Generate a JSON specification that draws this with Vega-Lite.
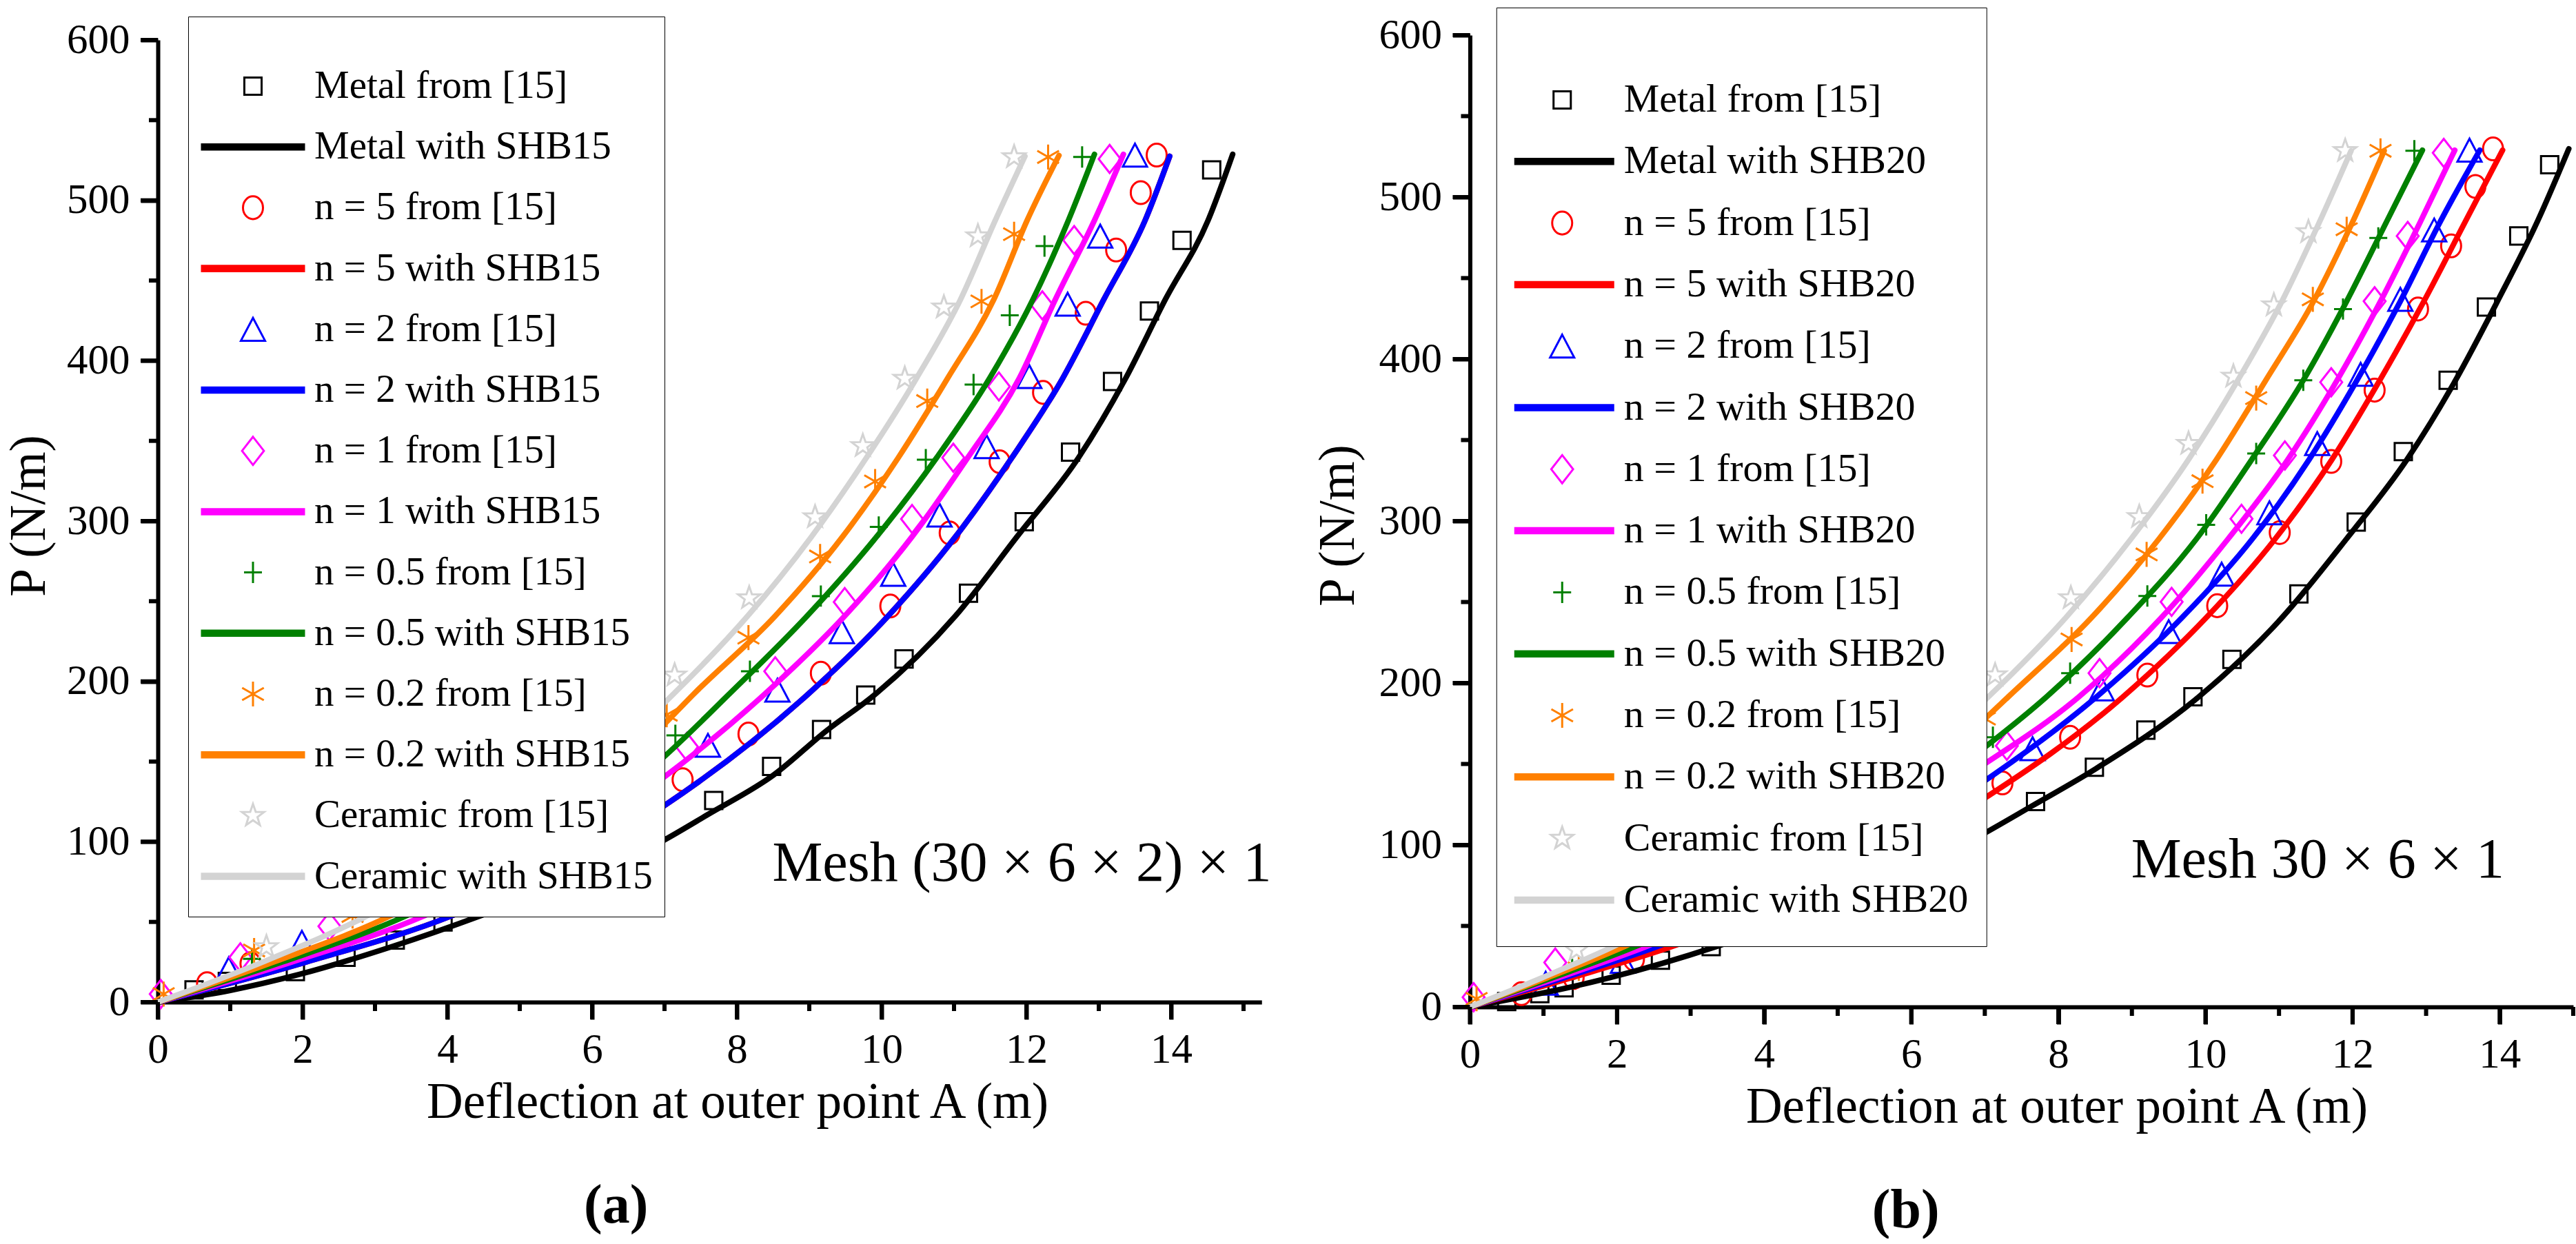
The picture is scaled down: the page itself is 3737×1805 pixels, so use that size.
{
  "$schema": "https://vega.github.io/schema/vega-lite/v6.json",
  "background": "white",
  "padding": {"left": 6, "top": 10, "right": 0, "bottom": 0},
  "spacing": 301.45,
  "bounds": "flush",
  "center": true,
  "config": {
    "view": {"stroke": null},
    "font": "Liberation Serif",
    "axis": {
      "domainWidth": 6, "domainColor": "#000000", "ticks": true, "tickWidth": 6, "tickColor": "#000000", "tickOpacity": 1,
      "labelFont": "Liberation Serif", "labelFontSize": 61, "labelColor": "black",
      "titleFont": "Liberation Serif", "titleFontSize": 73, "titleFontWeight": "normal", "titleColor": "black",
      "grid": false, "labelOverlap": false, "labelFlush": false
    }
  },
  "resolve": {
    "scale": {"color": "independent", "shape": "independent", "x": "independent", "y": "independent"},
    "legend": {"color": "independent", "shape": "independent"}
  },
  "datasets": {
    "xmaj": [{"v": 0}, {"v": 2}, {"v": 4}, {"v": 6}, {"v": 8}, {"v": 10}, {"v": 12}, {"v": 14}],
    "xmin": [{"v": 1}, {"v": 3}, {"v": 5}, {"v": 7}, {"v": 9}, {"v": 11}, {"v": 13}, {"v": 15}],
    "ymaj": [{"v": 0}, {"v": 100}, {"v": 200}, {"v": 300}, {"v": 400}, {"v": 500}, {"v": 600}],
    "ymin": [{"v": 50}, {"v": 150}, {"v": 250}, {"v": 350}, {"v": 450}, {"v": 550}],
    "a_pts": [
      {"series": "Metal from [15]", "x": 0.50, "y": 7.6},
      {"series": "Metal from [15]", "x": 0.96, "y": 12.9},
      {"series": "Metal from [15]", "x": 1.9, "y": 19},
      {"series": "Metal from [15]", "x": 2.6, "y": 28},
      {"series": "Metal from [15]", "x": 3.28, "y": 38.7},
      {"series": "Metal from [15]", "x": 3.94, "y": 50},
      {"series": "Metal from [15]", "x": 7.68, "y": 125.7},
      {"series": "Metal from [15]", "x": 8.48, "y": 147},
      {"series": "Metal from [15]", "x": 9.17, "y": 170},
      {"series": "Metal from [15]", "x": 9.78, "y": 191.5},
      {"series": "Metal from [15]", "x": 10.31, "y": 214},
      {"series": "Metal from [15]", "x": 11.20, "y": 255},
      {"series": "Metal from [15]", "x": 11.97, "y": 299.6},
      {"series": "Metal from [15]", "x": 12.61, "y": 343},
      {"series": "Metal from [15]", "x": 13.19, "y": 387},
      {"series": "Metal from [15]", "x": 13.70, "y": 431},
      {"series": "Metal from [15]", "x": 14.15, "y": 475},
      {"series": "Metal from [15]", "x": 14.56, "y": 519},
      {"series": "n = 5  from [15]", "x": 0.68, "y": 11.5},
      {"series": "n = 5  from [15]", "x": 1.28, "y": 24},
      {"series": "n = 5  from [15]", "x": 7.25, "y": 138.7},
      {"series": "n = 5  from [15]", "x": 8.16, "y": 167.2},
      {"series": "n = 5  from [15]", "x": 9.16, "y": 205.1},
      {"series": "n = 5  from [15]", "x": 10.12, "y": 247},
      {"series": "n = 5  from [15]", "x": 10.94, "y": 292.6},
      {"series": "n = 5  from [15]", "x": 11.63, "y": 337},
      {"series": "n = 5  from [15]", "x": 12.23, "y": 380.2},
      {"series": "n = 5  from [15]", "x": 12.82, "y": 429.6},
      {"series": "n = 5  from [15]", "x": 13.24, "y": 469},
      {"series": "n = 5  from [15]", "x": 13.58, "y": 504.8},
      {"series": "n = 5  from [15]", "x": 13.80, "y": 528.2},
      {"series": "n = 2  from [15]", "x": 0.98, "y": 20.8},
      {"series": "n = 2  from [15]", "x": 1.99, "y": 37.3},
      {"series": "n = 2  from [15]", "x": 7.60, "y": 160.1},
      {"series": "n = 2  from [15]", "x": 8.56, "y": 194.5},
      {"series": "n = 2  from [15]", "x": 9.45, "y": 231},
      {"series": "n = 2  from [15]", "x": 10.16, "y": 266.7},
      {"series": "n = 2  from [15]", "x": 10.80, "y": 303.7},
      {"series": "n = 2  from [15]", "x": 11.45, "y": 346.4},
      {"series": "n = 2  from [15]", "x": 12.04, "y": 390.1},
      {"series": "n = 2  from [15]", "x": 12.57, "y": 435.2},
      {"series": "n = 2  from [15]", "x": 13.02, "y": 477.7},
      {"series": "n = 2  from [15]", "x": 13.50, "y": 528.2},
      {"series": "n = 1  from [15]", "x": 0.04, "y": 5},
      {"series": "n = 1  from [15]", "x": 1.14, "y": 27.9},
      {"series": "n = 1  from [15]", "x": 2.37, "y": 47.3},
      {"series": "n = 1  from [15]", "x": 7.31, "y": 159.2},
      {"series": "n = 1  from [15]", "x": 8.53, "y": 206.3},
      {"series": "n = 1  from [15]", "x": 9.49, "y": 249.5},
      {"series": "n = 1  from [15]", "x": 10.42, "y": 301.3},
      {"series": "n = 1  from [15]", "x": 10.99, "y": 339.5},
      {"series": "n = 1  from [15]", "x": 11.62, "y": 383.9},
      {"series": "n = 1  from [15]", "x": 12.22, "y": 434.5},
      {"series": "n = 1  from [15]", "x": 12.66, "y": 475.2},
      {"series": "n = 1  from [15]", "x": 13.15, "y": 525.8},
      {"series": "n = 0.5  from [15]", "x": 1.3, "y": 27},
      {"series": "n = 0.5  from [15]", "x": 7.15, "y": 166.3},
      {"series": "n = 0.5  from [15]", "x": 8.18, "y": 206.3},
      {"series": "n = 0.5  from [15]", "x": 9.16, "y": 253.2},
      {"series": "n = 0.5  from [15]", "x": 9.96, "y": 296.3},
      {"series": "n = 0.5  from [15]", "x": 10.61, "y": 338.3},
      {"series": "n = 0.5  from [15]", "x": 11.27, "y": 385.1},
      {"series": "n = 0.5  from [15]", "x": 11.77, "y": 428.3},
      {"series": "n = 0.5  from [15]", "x": 12.25, "y": 471.5},
      {"series": "n = 0.5  from [15]", "x": 12.77, "y": 527},
      {"series": "n = 0.2  from [15]", "x": 0.08, "y": 5},
      {"series": "n = 0.2  from [15]", "x": 1.33, "y": 32.2},
      {"series": "n = 0.2  from [15]", "x": 2.69, "y": 53.7},
      {"series": "n = 0.2  from [15]", "x": 7.03, "y": 179.2},
      {"series": "n = 0.2  from [15]", "x": 8.16, "y": 227.3},
      {"series": "n = 0.2  from [15]", "x": 9.15, "y": 277.9},
      {"series": "n = 0.2  from [15]", "x": 9.91, "y": 324.7},
      {"series": "n = 0.2  from [15]", "x": 10.63, "y": 374.8},
      {"series": "n = 0.2  from [15]", "x": 11.38, "y": 437},
      {"series": "n = 0.2  from [15]", "x": 11.83, "y": 478.9},
      {"series": "n = 0.2  from [15]", "x": 12.30, "y": 527},
      {"series": "Ceramic  from [15]", "x": 1.50, "y": 34.4},
      {"series": "Ceramic  from [15]", "x": 7.14, "y": 203.8},
      {"series": "Ceramic  from [15]", "x": 8.17, "y": 252},
      {"series": "Ceramic  from [15]", "x": 9.08, "y": 302.5},
      {"series": "Ceramic  from [15]", "x": 9.74, "y": 346.9},
      {"series": "Ceramic  from [15]", "x": 10.32, "y": 388.9},
      {"series": "Ceramic  from [15]", "x": 10.86, "y": 433.3},
      {"series": "Ceramic  from [15]", "x": 11.33, "y": 477.7},
      {"series": "Ceramic  from [15]", "x": 11.83, "y": 527}
    ],
    "a_lines": [
      {"series": "Metal with SHB15", "x": 0, "y": 0},
      {"series": "Metal with SHB15", "x": 0.99, "y": 7.2},
      {"series": "Metal with SHB15", "x": 1.95, "y": 17.2},
      {"series": "Metal with SHB15", "x": 3.22, "y": 34.4},
      {"series": "Metal with SHB15", "x": 4.49, "y": 54.4},
      {"series": "Metal with SHB15", "x": 6.97, "y": 100.4},
      {"series": "Metal with SHB15", "x": 7.60, "y": 117},
      {"series": "Metal with SHB15", "x": 8.51, "y": 141.7},
      {"series": "Metal with SHB15", "x": 9.24, "y": 169.3},
      {"series": "Metal with SHB15", "x": 9.90, "y": 191.5},
      {"series": "Metal with SHB15", "x": 11.02, "y": 240.8},
      {"series": "Metal with SHB15", "x": 11.87, "y": 290.2},
      {"series": "Metal with SHB15", "x": 12.72, "y": 339.5},
      {"series": "Metal with SHB15", "x": 13.37, "y": 388.9},
      {"series": "Metal with SHB15", "x": 13.92, "y": 438.2},
      {"series": "Metal with SHB15", "x": 14.51, "y": 487.5},
      {"series": "Metal with SHB15", "x": 14.85, "y": 528.7},
      {"series": "n = 5 with SHB15", "x": 0, "y": 0},
      {"series": "n = 5 with SHB15", "x": 2.05, "y": 25},
      {"series": "n = 5 with SHB15", "x": 4.07, "y": 54},
      {"series": "n = 5 with SHB15", "x": 6.97, "y": 121.7},
      {"series": "n = 5 with SHB15", "x": 8.97, "y": 191.5},
      {"series": "n = 5 with SHB15", "x": 10.09, "y": 240.8},
      {"series": "n = 5 with SHB15", "x": 11.02, "y": 290.2},
      {"series": "n = 5 with SHB15", "x": 11.80, "y": 339.5},
      {"series": "n = 5 with SHB15", "x": 12.50, "y": 388.9},
      {"series": "n = 5 with SHB15", "x": 13.07, "y": 438.2},
      {"series": "n = 5 with SHB15", "x": 13.64, "y": 487.5},
      {"series": "n = 5 with SHB15", "x": 13.98, "y": 527.5},
      {"series": "n = 2 with SHB15", "x": 0, "y": 0},
      {"series": "n = 2 with SHB15", "x": 2.05, "y": 25},
      {"series": "n = 2 with SHB15", "x": 4.07, "y": 54},
      {"series": "n = 2 with SHB15", "x": 6.97, "y": 121.7},
      {"series": "n = 2 with SHB15", "x": 8.97, "y": 191.5},
      {"series": "n = 2 with SHB15", "x": 10.09, "y": 240.8},
      {"series": "n = 2 with SHB15", "x": 11.02, "y": 290.2},
      {"series": "n = 2 with SHB15", "x": 11.80, "y": 339.5},
      {"series": "n = 2 with SHB15", "x": 12.50, "y": 388.9},
      {"series": "n = 2 with SHB15", "x": 13.07, "y": 438.2},
      {"series": "n = 2 with SHB15", "x": 13.64, "y": 487.5},
      {"series": "n = 2 with SHB15", "x": 13.98, "y": 527.5},
      {"series": "n = 1 with SHB15", "x": 0, "y": 0},
      {"series": "n = 1 with SHB15", "x": 1.85, "y": 25},
      {"series": "n = 1 with SHB15", "x": 3.69, "y": 54},
      {"series": "n = 1 with SHB15", "x": 6.97, "y": 139.5},
      {"series": "n = 1 with SHB15", "x": 8.37, "y": 191.5},
      {"series": "n = 1 with SHB15", "x": 9.49, "y": 240.8},
      {"series": "n = 1 with SHB15", "x": 10.42, "y": 290.2},
      {"series": "n = 1 with SHB15", "x": 11.19, "y": 339.5},
      {"series": "n = 1 with SHB15", "x": 11.90, "y": 388.9},
      {"series": "n = 1 with SHB15", "x": 12.40, "y": 438.2},
      {"series": "n = 1 with SHB15", "x": 12.94, "y": 487.5},
      {"series": "n = 1 with SHB15", "x": 13.34, "y": 528.7},
      {"series": "n = 0.5 with SHB15", "x": 0, "y": 0},
      {"series": "n = 0.5 with SHB15", "x": 1.72, "y": 25},
      {"series": "n = 0.5 with SHB15", "x": 3.44, "y": 54},
      {"series": "n = 0.5 with SHB15", "x": 6.97, "y": 152},
      {"series": "n = 0.5 with SHB15", "x": 7.88, "y": 191.5},
      {"series": "n = 0.5 with SHB15", "x": 8.97, "y": 240.8},
      {"series": "n = 0.5 with SHB15", "x": 9.93, "y": 290.2},
      {"series": "n = 0.5 with SHB15", "x": 10.76, "y": 339.5},
      {"series": "n = 0.5 with SHB15", "x": 11.49, "y": 388.9},
      {"series": "n = 0.5 with SHB15", "x": 12.09, "y": 438.2},
      {"series": "n = 0.5 with SHB15", "x": 12.58, "y": 487.5},
      {"series": "n = 0.5 with SHB15", "x": 12.94, "y": 528.7},
      {"series": "n = 0.2 with SHB15", "x": 0, "y": 0},
      {"series": "n = 0.2 with SHB15", "x": 1.6, "y": 25},
      {"series": "n = 0.2 with SHB15", "x": 3.22, "y": 54},
      {"series": "n = 0.2 with SHB15", "x": 6.97, "y": 172},
      {"series": "n = 0.2 with SHB15", "x": 7.39, "y": 191.5},
      {"series": "n = 0.2 with SHB15", "x": 8.53, "y": 240.8},
      {"series": "n = 0.2 with SHB15", "x": 9.46, "y": 290.2},
      {"series": "n = 0.2 with SHB15", "x": 10.23, "y": 339.5},
      {"series": "n = 0.2 with SHB15", "x": 10.91, "y": 388.9},
      {"series": "n = 0.2 with SHB15", "x": 11.55, "y": 438.2},
      {"series": "n = 0.2 with SHB15", "x": 12.01, "y": 487.5},
      {"series": "n = 0.2 with SHB15", "x": 12.45, "y": 528},
      {"series": "Ceramic with SHB15", "x": 0, "y": 0},
      {"series": "Ceramic with SHB15", "x": 1.45, "y": 25},
      {"series": "Ceramic with SHB15", "x": 2.9, "y": 54},
      {"series": "Ceramic with SHB15", "x": 7.11, "y": 191.5},
      {"series": "Ceramic with SHB15", "x": 8.15, "y": 240.8},
      {"series": "Ceramic with SHB15", "x": 9.03, "y": 290.2},
      {"series": "Ceramic with SHB15", "x": 9.79, "y": 339.5},
      {"series": "Ceramic with SHB15", "x": 10.48, "y": 388.9},
      {"series": "Ceramic with SHB15", "x": 11.09, "y": 438.2},
      {"series": "Ceramic with SHB15", "x": 11.57, "y": 487.5},
      {"series": "Ceramic with SHB15", "x": 11.98, "y": 527.5}
    ],
    "b_pts": [
      {"series": "Metal from [15]", "x": 0.50, "y": 3.3},
      {"series": "Metal from [15]", "x": 0.95, "y": 8.2},
      {"series": "Metal from [15]", "x": 1.28, "y": 11.8},
      {"series": "Metal from [15]", "x": 1.92, "y": 19.6},
      {"series": "Metal from [15]", "x": 2.59, "y": 28.8},
      {"series": "Metal from [15]", "x": 3.28, "y": 37.3},
      {"series": "Metal from [15]", "x": 7.69, "y": 126.8},
      {"series": "Metal from [15]", "x": 8.49, "y": 148},
      {"series": "Metal from [15]", "x": 9.19, "y": 170.9},
      {"series": "Metal from [15]", "x": 9.83, "y": 191.5},
      {"series": "Metal from [15]", "x": 10.36, "y": 214.6},
      {"series": "Metal from [15]", "x": 11.27, "y": 255},
      {"series": "Metal from [15]", "x": 12.05, "y": 299.4},
      {"series": "Metal from [15]", "x": 12.69, "y": 342.9},
      {"series": "Metal from [15]", "x": 13.30, "y": 386.9},
      {"series": "Metal from [15]", "x": 13.82, "y": 432.1},
      {"series": "Metal from [15]", "x": 14.26, "y": 476},
      {"series": "Metal from [15]", "x": 14.68, "y": 520},
      {"series": "n = 5  from [15]", "x": 0.70, "y": 8.2},
      {"series": "n = 5  from [15]", "x": 1.41, "y": 18.2},
      {"series": "n = 5  from [15]", "x": 2.23, "y": 29.5},
      {"series": "n = 5  from [15]", "x": 7.24, "y": 138.3},
      {"series": "n = 5  from [15]", "x": 8.16, "y": 166.5},
      {"series": "n = 5  from [15]", "x": 9.21, "y": 204.9},
      {"series": "n = 5  from [15]", "x": 10.16, "y": 247.7},
      {"series": "n = 5  from [15]", "x": 11.01, "y": 292.9},
      {"series": "n = 5  from [15]", "x": 11.71, "y": 336.8},
      {"series": "n = 5  from [15]", "x": 12.30, "y": 380.8},
      {"series": "n = 5  from [15]", "x": 12.89, "y": 430.9},
      {"series": "n = 5  from [15]", "x": 13.34, "y": 469.9},
      {"series": "n = 5  from [15]", "x": 13.67, "y": 506.6},
      {"series": "n = 5  from [15]", "x": 13.91, "y": 529.8},
      {"series": "n = 2  from [15]", "x": 1.03, "y": 14.6},
      {"series": "n = 2  from [15]", "x": 2.08, "y": 28.1},
      {"series": "n = 2  from [15]", "x": 7.65, "y": 159.4},
      {"series": "n = 2  from [15]", "x": 8.59, "y": 196.3},
      {"series": "n = 2  from [15]", "x": 9.50, "y": 231.7},
      {"series": "n = 2  from [15]", "x": 10.22, "y": 267.2},
      {"series": "n = 2  from [15]", "x": 10.87, "y": 305.1},
      {"series": "n = 2  from [15]", "x": 11.52, "y": 347.8},
      {"series": "n = 2  from [15]", "x": 12.11, "y": 390.6},
      {"series": "n = 2  from [15]", "x": 12.65, "y": 436.9},
      {"series": "n = 2  from [15]", "x": 13.11, "y": 479.7},
      {"series": "n = 2  from [15]", "x": 13.59, "y": 529},
      {"series": "n = 1  from [15]", "x": 0.05, "y": 6},
      {"series": "n = 1  from [15]", "x": 1.16, "y": 27.4},
      {"series": "n = 1  from [15]", "x": 2.39, "y": 44},
      {"series": "n = 1  from [15]", "x": 7.30, "y": 161.2},
      {"series": "n = 1  from [15]", "x": 8.56, "y": 206.1},
      {"series": "n = 1  from [15]", "x": 9.54, "y": 250.1},
      {"series": "n = 1  from [15]", "x": 10.49, "y": 301.4},
      {"series": "n = 1  from [15]", "x": 11.08, "y": 340.5},
      {"series": "n = 1  from [15]", "x": 11.71, "y": 385.7},
      {"series": "n = 1  from [15]", "x": 12.30, "y": 435.7},
      {"series": "n = 1  from [15]", "x": 12.75, "y": 476},
      {"series": "n = 1  from [15]", "x": 13.24, "y": 527.3},
      {"series": "n = 0.5  from [15]", "x": 1.39, "y": 23.1},
      {"series": "n = 0.5  from [15]", "x": 7.11, "y": 166.5},
      {"series": "n = 0.5  from [15]", "x": 8.16, "y": 206.1},
      {"series": "n = 0.5  from [15]", "x": 9.21, "y": 253.7},
      {"series": "n = 0.5  from [15]", "x": 10.01, "y": 297.7},
      {"series": "n = 0.5  from [15]", "x": 10.69, "y": 341.7},
      {"series": "n = 0.5  from [15]", "x": 11.33, "y": 386.9},
      {"series": "n = 0.5  from [15]", "x": 11.87, "y": 430.9},
      {"series": "n = 0.5  from [15]", "x": 12.35, "y": 474.8},
      {"series": "n = 0.5  from [15]", "x": 12.84, "y": 528.6},
      {"series": "n = 0.2  from [15]", "x": 0.09, "y": 5},
      {"series": "n = 0.2  from [15]", "x": 1.48, "y": 23.8},
      {"series": "n = 0.2  from [15]", "x": 7.00, "y": 178},
      {"series": "n = 0.2  from [15]", "x": 8.18, "y": 226.9},
      {"series": "n = 0.2  from [15]", "x": 9.20, "y": 279.4},
      {"series": "n = 0.2  from [15]", "x": 9.96, "y": 324.6},
      {"series": "n = 0.2  from [15]", "x": 10.69, "y": 375.9},
      {"series": "n = 0.2  from [15]", "x": 11.46, "y": 436.9},
      {"series": "n = 0.2  from [15]", "x": 11.92, "y": 480.2},
      {"series": "n = 0.2  from [15]", "x": 12.38, "y": 528.6},
      {"series": "Ceramic  from [15]", "x": 1.45, "y": 35.2},
      {"series": "Ceramic  from [15]", "x": 7.14, "y": 204.9},
      {"series": "Ceramic  from [15]", "x": 8.17, "y": 252.5},
      {"series": "Ceramic  from [15]", "x": 9.10, "y": 302.6},
      {"series": "Ceramic  from [15]", "x": 9.77, "y": 347.8},
      {"series": "Ceramic  from [15]", "x": 10.38, "y": 389.3},
      {"series": "Ceramic  from [15]", "x": 10.93, "y": 433.3},
      {"series": "Ceramic  from [15]", "x": 11.40, "y": 478.5},
      {"series": "Ceramic  from [15]", "x": 11.90, "y": 528.6}
    ],
    "b_lines": [
      {"series": "Metal with SHB20", "x": 0, "y": 0},
      {"series": "Metal with SHB20", "x": 1.9, "y": 18},
      {"series": "Metal with SHB20", "x": 3.35, "y": 37.3},
      {"series": "Metal with SHB20", "x": 6.9, "y": 104.8},
      {"series": "Metal with SHB20", "x": 7.65, "y": 124.3},
      {"series": "Metal with SHB20", "x": 8.51, "y": 147.1},
      {"series": "Metal with SHB20", "x": 9.91, "y": 191.5},
      {"series": "Metal with SHB20", "x": 11.04, "y": 240.3},
      {"series": "Metal with SHB20", "x": 11.92, "y": 289.1},
      {"series": "Metal with SHB20", "x": 12.74, "y": 338},
      {"series": "Metal with SHB20", "x": 13.40, "y": 386.9},
      {"series": "Metal with SHB20", "x": 13.97, "y": 435.7},
      {"series": "Metal with SHB20", "x": 14.51, "y": 484.6},
      {"series": "Metal with SHB20", "x": 14.94, "y": 529.8},
      {"series": "n = 5 with SHB20", "x": 0, "y": 0},
      {"series": "n = 5 with SHB20", "x": 1.38, "y": 18},
      {"series": "n = 5 with SHB20", "x": 2.75, "y": 37.3},
      {"series": "n = 5 with SHB20", "x": 6.9, "y": 126},
      {"series": "n = 5 with SHB20", "x": 8.88, "y": 191.5},
      {"series": "n = 5 with SHB20", "x": 10.01, "y": 240.3},
      {"series": "n = 5 with SHB20", "x": 10.95, "y": 289.1},
      {"series": "n = 5 with SHB20", "x": 11.72, "y": 338},
      {"series": "n = 5 with SHB20", "x": 12.37, "y": 386.9},
      {"series": "n = 5 with SHB20", "x": 12.97, "y": 435.7},
      {"series": "n = 5 with SHB20", "x": 13.53, "y": 484.6},
      {"series": "n = 5 with SHB20", "x": 14.04, "y": 529},
      {"series": "n = 2 with SHB20", "x": 0, "y": 0},
      {"series": "n = 2 with SHB20", "x": 1.28, "y": 18},
      {"series": "n = 2 with SHB20", "x": 2.55, "y": 37.3},
      {"series": "n = 2 with SHB20", "x": 6.9, "y": 136.5},
      {"series": "n = 2 with SHB20", "x": 8.52, "y": 191.5},
      {"series": "n = 2 with SHB20", "x": 9.68, "y": 240.3},
      {"series": "n = 2 with SHB20", "x": 10.64, "y": 289.1},
      {"series": "n = 2 with SHB20", "x": 11.41, "y": 338},
      {"series": "n = 2 with SHB20", "x": 12.06, "y": 386.9},
      {"series": "n = 2 with SHB20", "x": 12.65, "y": 435.7},
      {"series": "n = 2 with SHB20", "x": 13.19, "y": 484.6},
      {"series": "n = 2 with SHB20", "x": 13.73, "y": 529},
      {"series": "n = 1 with SHB20", "x": 0, "y": 0},
      {"series": "n = 1 with SHB20", "x": 1.2, "y": 18},
      {"series": "n = 1 with SHB20", "x": 2.4, "y": 37.3},
      {"series": "n = 1 with SHB20", "x": 6.9, "y": 147.1},
      {"series": "n = 1 with SHB20", "x": 8.28, "y": 191.5},
      {"series": "n = 1 with SHB20", "x": 9.40, "y": 240.3},
      {"series": "n = 1 with SHB20", "x": 10.31, "y": 289.1},
      {"series": "n = 1 with SHB20", "x": 11.12, "y": 338},
      {"series": "n = 1 with SHB20", "x": 11.79, "y": 386.9},
      {"series": "n = 1 with SHB20", "x": 12.38, "y": 435.7},
      {"series": "n = 1 with SHB20", "x": 12.92, "y": 484.6},
      {"series": "n = 1 with SHB20", "x": 13.39, "y": 529},
      {"series": "n = 0.5 with SHB20", "x": 0, "y": 0},
      {"series": "n = 0.5 with SHB20", "x": 1.12, "y": 18},
      {"series": "n = 0.5 with SHB20", "x": 2.25, "y": 37.3},
      {"series": "n = 0.5 with SHB20", "x": 6.9, "y": 156.8},
      {"series": "n = 0.5 with SHB20", "x": 7.84, "y": 191.5},
      {"series": "n = 0.5 with SHB20", "x": 8.94, "y": 240.3},
      {"series": "n = 0.5 with SHB20", "x": 9.88, "y": 289.1},
      {"series": "n = 0.5 with SHB20", "x": 10.63, "y": 338},
      {"series": "n = 0.5 with SHB20", "x": 11.33, "y": 386.9},
      {"series": "n = 0.5 with SHB20", "x": 11.92, "y": 435.7},
      {"series": "n = 0.5 with SHB20", "x": 12.46, "y": 484.6},
      {"series": "n = 0.5 with SHB20", "x": 12.95, "y": 529},
      {"series": "n = 0.2 with SHB20", "x": 0, "y": 0},
      {"series": "n = 0.2 with SHB20", "x": 1.05, "y": 18},
      {"series": "n = 0.2 with SHB20", "x": 2.1, "y": 37.3},
      {"series": "n = 0.2 with SHB20", "x": 6.9, "y": 173.6},
      {"series": "n = 0.2 with SHB20", "x": 7.32, "y": 191.5},
      {"series": "n = 0.2 with SHB20", "x": 8.45, "y": 240.3},
      {"series": "n = 0.2 with SHB20", "x": 9.37, "y": 289.1},
      {"series": "n = 0.2 with SHB20", "x": 10.15, "y": 338},
      {"series": "n = 0.2 with SHB20", "x": 10.82, "y": 386.9},
      {"series": "n = 0.2 with SHB20", "x": 11.47, "y": 435.7},
      {"series": "n = 0.2 with SHB20", "x": 12.00, "y": 484.6},
      {"series": "n = 0.2 with SHB20", "x": 12.43, "y": 528.6},
      {"series": "Ceramic with SHB20", "x": 0, "y": 0},
      {"series": "Ceramic with SHB20", "x": 0.98, "y": 18},
      {"series": "Ceramic with SHB20", "x": 1.95, "y": 37.3},
      {"series": "Ceramic with SHB20", "x": 7.05, "y": 191.5},
      {"series": "Ceramic with SHB20", "x": 8.10, "y": 240.3},
      {"series": "Ceramic with SHB20", "x": 8.99, "y": 289.1},
      {"series": "Ceramic with SHB20", "x": 9.77, "y": 338},
      {"series": "Ceramic with SHB20", "x": 10.44, "y": 386.9},
      {"series": "Ceramic with SHB20", "x": 11.04, "y": 435.7},
      {"series": "Ceramic with SHB20", "x": 11.55, "y": 484.6},
      {"series": "Ceramic with SHB20", "x": 11.98, "y": 528.6}
    ]
  },
  "hconcat": [
    {
      "width": 1601.25,
      "height": 1396,
      "title": {"text": "(a)", "orient": "bottom", "frame": "group", "anchor": "middle", "dx": -136, "offset": 75, "fontSize": 80, "fontWeight": "bold", "font": "Liberation Serif", "color": "black"},
      "resolve": {"axis": {"x": "independent", "y": "independent"}},
      "layer": [
        {
          "data": {"name": "a_pts"},
          "mark": {"type": "point", "filled": false, "size": 22801, "strokeWidth": 3, "opacity": 1},
          "encoding": {
            "x": {"field": "x", "type": "quantitative", "scale": {"domain": [0, 15.25], "nice": false, "zero": false},
              "axis": {"orient": "bottom", "values": [0,2,4,6,8,10,12,14], "format": "d", "ticks": true, "tickSize": 25, "tickWidth": 6, "tickColor": "#000000", "labelPadding": 14,
                "title": "Deflection at outer point A (m)", "titleX": 840.5, "titleY": 167, "titleBaseline": "alphabetic"}},
            "y": {"field": "y", "type": "quantitative", "scale": {"domain": [0, 600], "nice": false},
              "axis": {"orient": "left", "values": [0,100,200,300,400,500,600], "format": "d", "ticks": true, "tickSize": 25, "tickWidth": 6, "tickColor": "#000000", "labelPadding": 16,
                "title": "P (N/m)", "titleX": -165, "titleY": 690, "titleBaseline": "alphabetic"}},
            "color": {"field": "series", "type": "nominal",
              "scale": {"domain": ["Metal from [15]", "Metal with SHB15", "n = 5  from [15]", "n = 5 with SHB15", "n = 2  from [15]", "n = 2 with SHB15", "n = 1  from [15]", "n = 1 with SHB15", "n = 0.5  from [15]", "n = 0.5 with SHB15", "n = 0.2  from [15]", "n = 0.2 with SHB15", "Ceramic  from [15]", "Ceramic with SHB15"],
                "range": ["#000000", "#000000", "#FF0000", "#FF0000", "#0000FF", "#0000FF", "#FF00FF", "#FF00FF", "#008000", "#008000", "#FF8000", "#FF8000", "#D3D3D3", "#D3D3D3"]},
              "legend": {"orient": "none", "legendX": 44, "legendY": -34, "direction": "vertical", "title": " ", "titleFontSize": 20, "titlePadding": 23,
                "padding": 17, "fillColor": "white", "strokeColor": "black", "symbolSize": 22801, "symbolStrokeWidth": 3, "symbolOffset": 0,
                "clipHeight": 82, "rowPadding": 6.2, "labelOffset": 12, "labelFont": "Liberation Serif", "labelFontSize": 57, "labelLimit": 1000, "labelColor": "black",
                "encode": {"legend": {"update": {"strokeWidth": {"value": 2.5}}}}}},
            "shape": {"field": "series", "type": "nominal",
              "scale": {"domain": ["Metal from [15]", "Metal with SHB15", "n = 5  from [15]", "n = 5 with SHB15", "n = 2  from [15]", "n = 2 with SHB15", "n = 1  from [15]", "n = 1 with SHB15", "n = 0.5  from [15]", "n = 0.5 with SHB15", "n = 0.2  from [15]", "n = 0.2 with SHB15", "Ceramic  from [15]", "Ceramic with SHB15"],
                "range": ["M-0.166,-0.166H0.166V0.166H-0.166Z", "M-1,-0.05H1M-1,-0.017H1M-1,0.017H1M-1,0.05H1", "M-0.192,0A0.192,0.219,0,1,1,0.192,0A0.192,0.219,0,1,1,-0.192,0Z", "M-1,-0.05H1M-1,-0.017H1M-1,0.017H1M-1,0.05H1", "M0,-0.22L0.232,0.22L-0.232,0.22Z", "M-1,-0.05H1M-1,-0.017H1M-1,0.017H1M-1,0.05H1", "M0,-0.27L0.21,0L0,0.27L-0.21,0Z", "M-1,-0.05H1M-1,-0.017H1M-1,0.017H1M-1,0.05H1", "M-0.172,0H0.172M0,-0.205V0.205", "M-1,-0.05H1M-1,-0.017H1M-1,0.017H1M-1,0.05H1", "M0,-0.24V0.24M-0.208,-0.12L0.208,0.12M-0.208,0.12L0.208,-0.12", "M-1,-0.05H1M-1,-0.017H1M-1,0.017H1M-1,0.05H1", "M0,-0.225L0.0529,-0.0728L0.214,-0.0695L0.0856,0.0278L0.132,0.182L0,0.09L-0.132,0.182L-0.0856,0.0278L-0.214,-0.0695L-0.0529,-0.0728Z", "M-1,-0.05H1M-1,-0.017H1M-1,0.017H1M-1,0.05H1"]},
              "legend": {"orient": "none", "legendX": 44, "legendY": -34, "direction": "vertical", "title": " ", "titleFontSize": 20, "titlePadding": 23,
                "padding": 17, "fillColor": "white", "strokeColor": "black", "symbolSize": 22801, "symbolStrokeWidth": 3, "symbolOffset": 0,
                "clipHeight": 82, "rowPadding": 6.2, "labelOffset": 12, "labelFont": "Liberation Serif", "labelFontSize": 57, "labelLimit": 1000, "labelColor": "black",
                "encode": {"legend": {"update": {"strokeWidth": {"value": 2.5}}}}}}
          }
        },
        {
          "data": {"name": "a_lines"},
          "mark": {"type": "line", "strokeWidth": 8, "strokeCap": "round", "strokeJoin": "round", "interpolate": "monotone"},
          "encoding": {
            "x": {"field": "x", "type": "quantitative", "axis": null},
            "y": {"field": "y", "type": "quantitative", "axis": null},
            "color": {"field": "series", "type": "nominal", "legend": null,
              "scale": {"domain": ["Metal from [15]", "Metal with SHB15", "n = 5  from [15]", "n = 5 with SHB15", "n = 2  from [15]", "n = 2 with SHB15", "n = 1  from [15]", "n = 1 with SHB15", "n = 0.5  from [15]", "n = 0.5 with SHB15", "n = 0.2  from [15]", "n = 0.2 with SHB15", "Ceramic  from [15]", "Ceramic with SHB15"],
                "range": ["#000000", "#000000", "#FF0000", "#FF0000", "#0000FF", "#0000FF", "#FF00FF", "#FF00FF", "#008000", "#008000", "#FF8000", "#FF8000", "#D3D3D3", "#D3D3D3"]}}
          }
        },
        {
          "data": {"name": "xmaj"},
          "mark": {"type": "tick", "orient": "vertical", "size": 25, "thickness": 6, "yOffset": 12.5, "color": "#000000", "opacity": 1},
          "encoding": {"x": {"field": "v", "type": "quantitative", "axis": null}, "y": {"datum": 0, "type": "quantitative", "axis": null}}
        },
        {
          "data": {"name": "xmin"},
          "mark": {"type": "tick", "orient": "vertical", "size": 13, "thickness": 6, "yOffset": 6.5, "color": "#000000", "opacity": 1},
          "encoding": {"x": {"field": "v", "type": "quantitative", "axis": null}, "y": {"datum": 0, "type": "quantitative", "axis": null}}
        },
        {
          "data": {"name": "ymaj"},
          "mark": {"type": "tick", "orient": "horizontal", "size": 25, "thickness": 6, "xOffset": -12.5, "color": "#000000", "opacity": 1},
          "encoding": {"y": {"field": "v", "type": "quantitative", "axis": null}, "x": {"datum": 0, "type": "quantitative", "axis": null}}
        },
        {
          "data": {"name": "ymin"},
          "mark": {"type": "tick", "orient": "horizontal", "size": 13, "thickness": 6, "xOffset": -6.5, "color": "#000000", "opacity": 1},
          "encoding": {"y": {"field": "v", "type": "quantitative", "axis": null}, "x": {"datum": 0, "type": "quantitative", "axis": null}}
        },
        {
          "data": {"values": [{"label": "Mesh (30 × 6 × 2) × 1"}]},
          "mark": {"type": "text", "align": "left", "baseline": "alphabetic", "fontSize": 82, "font": "Liberation Serif", "color": "black"},
          "encoding": {
            "x": {"datum": 8.49, "type": "quantitative", "axis": null},
            "y": {"datum": 75.5, "type": "quantitative", "axis": null},
            "text": {"field": "label"}
          }
        }
      ]
    },
    {
      "width": 1600.5,
      "height": 1410,
      "title": {"text": "(b)", "orient": "bottom", "frame": "group", "anchor": "middle", "dx": -168, "offset": 75, "fontSize": 80, "fontWeight": "bold", "font": "Liberation Serif", "color": "black"},
      "resolve": {"axis": {"x": "independent", "y": "independent"}},
      "layer": [
        {
          "data": {"name": "b_pts"},
          "mark": {"type": "point", "filled": false, "size": 22801, "strokeWidth": 3, "opacity": 1},
          "encoding": {
            "x": {"field": "x", "type": "quantitative", "scale": {"domain": [0, 15], "nice": false, "zero": false},
              "axis": {"orient": "bottom", "values": [0,2,4,6,8,10,12,14], "format": "d", "ticks": true, "tickSize": 25, "tickWidth": 6, "tickColor": "#000000", "labelPadding": 14,
                "title": "Deflection at outer point A (m)", "titleX": 851, "titleY": 167, "titleBaseline": "alphabetic"}},
            "y": {"field": "y", "type": "quantitative", "scale": {"domain": [0, 600], "nice": false},
              "axis": {"orient": "left", "values": [0,100,200,300,400,500,600], "format": "d", "ticks": true, "tickSize": 25, "tickWidth": 6, "tickColor": "#000000", "labelPadding": 16,
                "title": "P (N/m)", "titleX": -169, "titleY": 711, "titleBaseline": "alphabetic"}},
            "color": {"field": "series", "type": "nominal",
              "scale": {"domain": ["Metal from [15]", "Metal with SHB20", "n = 5  from [15]", "n = 5 with SHB20", "n = 2  from [15]", "n = 2 with SHB20", "n = 1  from [15]", "n = 1 with SHB20", "n = 0.5  from [15]", "n = 0.5 with SHB20", "n = 0.2  from [15]", "n = 0.2 with SHB20", "Ceramic  from [15]", "Ceramic with SHB20"],
                "range": ["#000000", "#000000", "#FF0000", "#FF0000", "#0000FF", "#0000FF", "#FF00FF", "#FF00FF", "#008000", "#008000", "#FF8000", "#FF8000", "#D3D3D3", "#D3D3D3"]},
              "legend": {"orient": "none", "legendX": 38.3, "legendY": -40, "direction": "vertical", "title": " ", "titleFontSize": 20, "titlePadding": 47,
                "padding": 26, "fillColor": "white", "strokeColor": "black", "symbolSize": 22801, "symbolStrokeWidth": 3, "symbolOffset": -7.5,
                "clipHeight": 82, "rowPadding": 7.3, "labelOffset": 12.5, "labelFont": "Liberation Serif", "labelFontSize": 58, "labelLimit": 1000, "labelColor": "black",
                "encode": {"legend": {"update": {"strokeWidth": {"value": 2.5}}}}}},
            "shape": {"field": "series", "type": "nominal",
              "scale": {"domain": ["Metal from [15]", "Metal with SHB20", "n = 5  from [15]", "n = 5 with SHB20", "n = 2  from [15]", "n = 2 with SHB20", "n = 1  from [15]", "n = 1 with SHB20", "n = 0.5  from [15]", "n = 0.5 with SHB20", "n = 0.2  from [15]", "n = 0.2 with SHB20", "Ceramic  from [15]", "Ceramic with SHB20"],
                "range": ["M-0.166,-0.166H0.166V0.166H-0.166Z", "M-1,-0.05H1M-1,-0.017H1M-1,0.017H1M-1,0.05H1", "M-0.192,0A0.192,0.219,0,1,1,0.192,0A0.192,0.219,0,1,1,-0.192,0Z", "M-1,-0.05H1M-1,-0.017H1M-1,0.017H1M-1,0.05H1", "M0,-0.22L0.232,0.22L-0.232,0.22Z", "M-1,-0.05H1M-1,-0.017H1M-1,0.017H1M-1,0.05H1", "M0,-0.27L0.21,0L0,0.27L-0.21,0Z", "M-1,-0.05H1M-1,-0.017H1M-1,0.017H1M-1,0.05H1", "M-0.172,0H0.172M0,-0.205V0.205", "M-1,-0.05H1M-1,-0.017H1M-1,0.017H1M-1,0.05H1", "M0,-0.24V0.24M-0.208,-0.12L0.208,0.12M-0.208,0.12L0.208,-0.12", "M-1,-0.05H1M-1,-0.017H1M-1,0.017H1M-1,0.05H1", "M0,-0.225L0.0529,-0.0728L0.214,-0.0695L0.0856,0.0278L0.132,0.182L0,0.09L-0.132,0.182L-0.0856,0.0278L-0.214,-0.0695L-0.0529,-0.0728Z", "M-1,-0.05H1M-1,-0.017H1M-1,0.017H1M-1,0.05H1"]},
              "legend": {"orient": "none", "legendX": 38.3, "legendY": -40, "direction": "vertical", "title": " ", "titleFontSize": 20, "titlePadding": 47,
                "padding": 26, "fillColor": "white", "strokeColor": "black", "symbolSize": 22801, "symbolStrokeWidth": 3, "symbolOffset": -7.5,
                "clipHeight": 82, "rowPadding": 7.3, "labelOffset": 12.5, "labelFont": "Liberation Serif", "labelFontSize": 58, "labelLimit": 1000, "labelColor": "black",
                "encode": {"legend": {"update": {"strokeWidth": {"value": 2.5}}}}}}
          }
        },
        {
          "data": {"name": "b_lines"},
          "mark": {"type": "line", "strokeWidth": 8, "strokeCap": "round", "strokeJoin": "round", "interpolate": "monotone"},
          "encoding": {
            "x": {"field": "x", "type": "quantitative", "axis": null},
            "y": {"field": "y", "type": "quantitative", "axis": null},
            "color": {"field": "series", "type": "nominal", "legend": null,
              "scale": {"domain": ["Metal from [15]", "Metal with SHB20", "n = 5  from [15]", "n = 5 with SHB20", "n = 2  from [15]", "n = 2 with SHB20", "n = 1  from [15]", "n = 1 with SHB20", "n = 0.5  from [15]", "n = 0.5 with SHB20", "n = 0.2  from [15]", "n = 0.2 with SHB20", "Ceramic  from [15]", "Ceramic with SHB20"],
                "range": ["#000000", "#000000", "#FF0000", "#FF0000", "#0000FF", "#0000FF", "#FF00FF", "#FF00FF", "#008000", "#008000", "#FF8000", "#FF8000", "#D3D3D3", "#D3D3D3"]}}
          }
        },
        {
          "data": {"name": "xmaj"},
          "mark": {"type": "tick", "orient": "vertical", "size": 25, "thickness": 6, "yOffset": 12.5, "color": "#000000", "opacity": 1},
          "encoding": {"x": {"field": "v", "type": "quantitative", "axis": null}, "y": {"datum": 0, "type": "quantitative", "axis": null}}
        },
        {
          "data": {"name": "xmin"},
          "mark": {"type": "tick", "orient": "vertical", "size": 13, "thickness": 6, "yOffset": 6.5, "color": "#000000", "opacity": 1},
          "encoding": {"x": {"field": "v", "type": "quantitative", "axis": null}, "y": {"datum": 0, "type": "quantitative", "axis": null}}
        },
        {
          "data": {"name": "ymaj"},
          "mark": {"type": "tick", "orient": "horizontal", "size": 25, "thickness": 6, "xOffset": -12.5, "color": "#000000", "opacity": 1},
          "encoding": {"y": {"field": "v", "type": "quantitative", "axis": null}, "x": {"datum": 0, "type": "quantitative", "axis": null}}
        },
        {
          "data": {"name": "ymin"},
          "mark": {"type": "tick", "orient": "horizontal", "size": 13, "thickness": 6, "xOffset": -6.5, "color": "#000000", "opacity": 1},
          "encoding": {"y": {"field": "v", "type": "quantitative", "axis": null}, "x": {"datum": 0, "type": "quantitative", "axis": null}}
        },
        {
          "data": {"values": [{"label": "Mesh 30 × 6 × 1"}]},
          "mark": {"type": "text", "align": "left", "baseline": "alphabetic", "fontSize": 82, "font": "Liberation Serif", "color": "black"},
          "encoding": {
            "x": {"datum": 8.99, "type": "quantitative", "axis": null},
            "y": {"datum": 80, "type": "quantitative", "axis": null},
            "text": {"field": "label"}
          }
        }
      ]
    }
  ]
}
